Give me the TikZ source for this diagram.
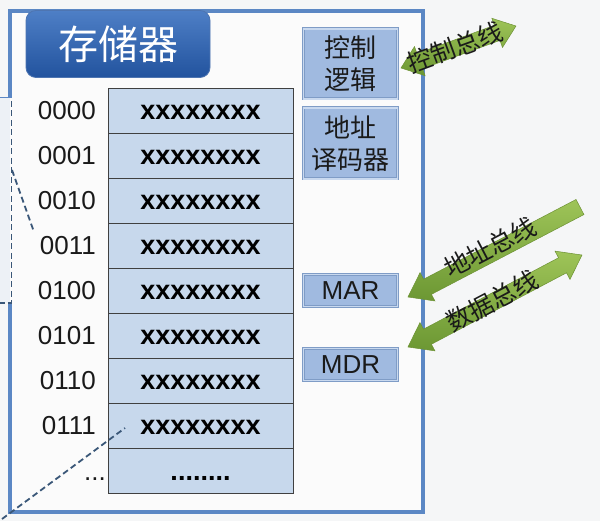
\documentclass[tikz,border=0pt]{standalone}
\usepackage{fontspec}
\setmainfont{Liberation Sans}
\newfontfamily\cjk{Noto Sans CJK SC}
\usetikzlibrary{calc}
\definecolor{framec}{HTML}{5B87C4}
\definecolor{cellfill}{HTML}{C7D8EC}
\definecolor{cellline}{HTML}{404040}
\definecolor{boxfill}{HTML}{A0BAE0}
\definecolor{boxring}{HTML}{C9D9EF}
\definecolor{boxedge}{HTML}{7F9CC6}
\definecolor{bgc}{HTML}{F5F6F7}
\definecolor{innerc}{HTML}{FBFBFB}
\definecolor{leftc}{HTML}{EDF1F6}
\definecolor{dashc}{HTML}{3A5778}
\definecolor{busL}{HTML}{9EC458}
\definecolor{busD}{HTML}{6C9733}
\definecolor{busE}{HTML}{6D9234}
\definecolor{titleT}{HTML}{4E7FC6}
\definecolor{titleB}{HTML}{22539E}
\definecolor{txt}{HTML}{1A1A1A}
\begin{document}
\begin{tikzpicture}[x=1pt,y=-1pt,
  cell/.style={draw=cellline, fill=cellfill, line width=0.8pt, minimum width=185pt, minimum height=45pt, inner sep=0pt, text height=19pt, text depth=0pt, font=\bfseries\fontsize{27}{27}\selectfont, text=black},
  addr/.style={anchor=east, inner sep=0pt, text height=19pt, text depth=0pt, font=\fontsize{26}{26}\selectfont, text=txt},
  ctlbox/.style={fill=boxfill, draw=boxedge, double=boxring, double distance=1.6pt, line width=0.7pt, minimum width=94pt, inner sep=0pt, align=center, text=txt},
  cjkbox/.style={ctlbox, font=\cjk\fontsize{26}{32}\selectfont},
  latbox/.style={ctlbox, font=\fontsize{26}{26}\selectfont, minimum height=32pt},
  titlebox/.style={rounded corners=10pt, top color=titleT, bottom color=titleB, draw=titleB!80!white, line width=0.8pt, minimum width=184pt, minimum height=67pt, text=white, font=\cjk\fontsize{40}{40}\selectfont},
  busshade/.style={top color=busL, bottom color=busD, draw=busE, line width=0.5pt},
  bustext/.style={inner sep=0pt, text=txt},
  dashln/.style={draw=dashc, dash pattern=on 6pt off 3.5pt, line width=1.8pt}
]
\useasboundingbox (0,0) rectangle (600,521);
\fill[bgc] (0,0) rectangle (600,521);
\fill[leftc] (0,98) rectangle (10,303);
\fill[innerc] (10,11) rectangle (423,512);
% frame
\draw[framec, line width=4pt] (10,98) -- (10,11) -- (423,11) -- (423,512) -- (10,512) -- (10,303);
\draw[framec, line width=1pt] (0,98) -- (10,98);

% memory cells
\foreach \a [count=\i from 0] in {0000,0001,0010,0011,0100,0101,0110,0111} {
  \node[cell] (cell\i) at (200.5,{110.5+45*\i}) {xxxxxxxx};
  \node[addr] (addr\i) at (96,{110.5+45*\i}) {\a};
}
\node[cell] (cell8) at (200.5,470.5) {........};
\node[addr] (addr8) at (106,470.5) {...};

% dashed zoom lines
\draw[dashln] (11.5,101) -- (11.5,303) -- (0,303);
\draw[dashln] (12,170) -- (34,232);
\draw[dashln] (2,519) -- (125,428);

% title
\node[titlebox] (title) at (118,44) {存储器};

% right boxes
\node[cjkbox, minimum height=70pt] (ctrl) at (350.5,64) {控制\\逻辑};
\node[cjkbox, minimum height=71pt] (dec) at (350.5,143.5) {地址\\译码器};
\node[latbox] (mar) at (350.5,290.5) {MAR};
\node[latbox] (mdr) at (350.5,364.5) {MDR};

% buses
\coordinate (ctlTip) at (401,68);
\coordinate (addrTip) at (408,297);
\coordinate (dataTip) at (408,347);

\begin{scope}[shift={(ctlTip)}, rotate=20.06]
  \path[busshade] (0,0) -- (20,-15.5) -- (20,-8) -- (102.4,-8) -- (102.4,-15.5) -- (122.4,0) -- (102.4,15.5) -- (102.4,8) -- (20,8) -- (20,15.5) -- cycle;
  \node[bustext, rotate=20.06, font=\cjk\fontsize{25}{25}\selectfont] (ctlbus) at (58,-1) {控制总线};
\end{scope}

\begin{scope}[shift={(addrTip)}, rotate=27.62]
  \path[busshade] (0,0) -- (22,-16) -- (22,-8.5) -- (194.1,-8.5) -- (194.1,8.5) -- (22,8.5) -- (22,16) -- cycle;
  \node[bustext, rotate=27.62, font=\cjk\fontsize{25}{25}\selectfont] (addrbus) at (96,-6) {地址总线};
\end{scope}

\begin{scope}[shift={(dataTip)}, rotate=27.87]
  \path[busshade] (0,0) -- (22,-16) -- (22,-8.5) -- (174.8,-8.5) -- (174.8,-16) -- (196.8,0) -- (174.8,16) -- (174.8,8.5) -- (22,8.5) -- (22,16) -- cycle;
  \node[bustext, rotate=27.87, font=\cjk\fontsize{25}{25}\selectfont] (databus) at (96,-1) {数据总线};
\end{scope}
\end{tikzpicture}
\end{document}
